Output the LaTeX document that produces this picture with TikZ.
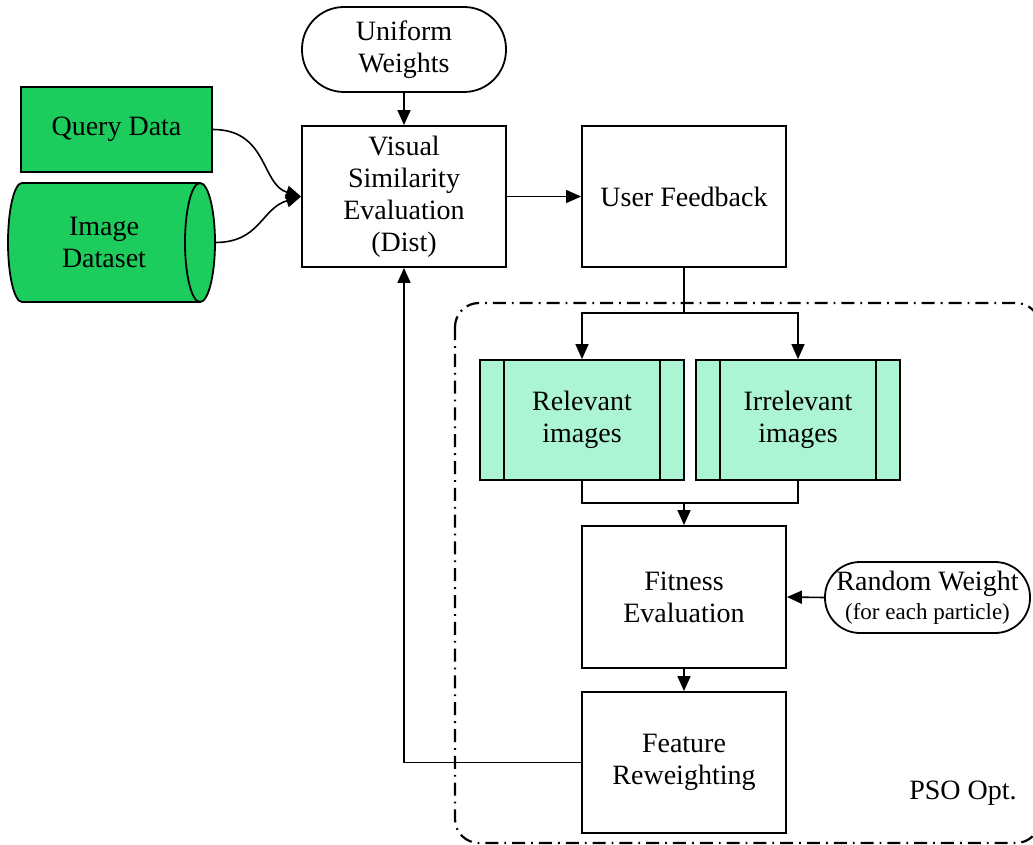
\documentclass[tikz,border=0pt]{standalone}
\usepackage{fontspec}
\setmainfont{Liberation Serif}
\usetikzlibrary{arrows.meta}
\definecolor{qgreen}{RGB}{28,204,92}
\definecolor{mint}{RGB}{172,245,212}
\begin{document}
\begin{tikzpicture}[x=1pt,y=-1pt,
  every node/.style={font=\fontsize{28}{32}\selectfont, align=center, inner sep=0pt},
  box/.style={draw, line width=1.8pt, minimum width=204pt, minimum height=141pt},
  setbox/.style={draw, line width=1.8pt, fill=mint, minimum width=204pt, minimum height=120pt},
  conn/.style={line width=1.6pt},
  arr/.style={conn, -{Triangle[length=15pt,width=13pt]}},
  pso/.style={line width=2.2pt, rounded corners=24pt, dash pattern=on 13pt off 6pt on 1.8pt off 6pt},
]
\useasboundingbox (0,0) rectangle (1033,845);

% PSO region (clipped by the page edge)
\begin{scope}
  \clip (0,0) rectangle (1033,845);
  \draw[pso] (455,303) rectangle (1040,843);
\end{scope}

% image dataset cylinder
\draw[line width=1.8pt, fill=qgreen] (22,183) arc[start angle=90,end angle=270,x radius=14pt,y radius=59.5pt]
  -- (200,302) arc[start angle=-90,end angle=90,x radius=15pt,y radius=59.5pt] -- cycle;
\draw[line width=1.8pt] (200,183) arc[start angle=90,end angle=270,x radius=15pt,y radius=59.5pt];
\node[minimum width=222pt, minimum height=119pt] (ids) at (104,242.5) {Image\\Dataset};

\node[draw, line width=1.8pt, fill=qgreen, minimum width=191pt, minimum height=85pt] (qd) at (116.5,129.5) {Query Data};

\node[draw, line width=1.8pt, rounded corners=42pt, minimum width=204pt, minimum height=85pt] (uw) at (404,49.5) {Uniform\\Weights};
\node[box] (vis) at (404,196.5) {Visual\\Similarity\\Evaluation\\(Dist)};
\node[box] (uf) at (684,196.5) {User Feedback};

\node[setbox] (rel) at (582,420) {Relevant\\images};
\node[setbox] (irr) at (798,420) {Irrelevant\\images};
\foreach \n in {rel,irr}{
  \draw[line width=1.8pt] ([xshift=25pt]\n.north west) -- ([xshift=25pt]\n.south west);
  \draw[line width=1.8pt] ([xshift=-25pt]\n.north east) -- ([xshift=-25pt]\n.south east);
}

\node[box, minimum height=142pt] (fit) at (684,597) {Fitness\\Evaluation};
\node[box] (feat) at (684,762.5) {Feature\\Reweighting};

\node[draw, line width=1.8pt, rounded corners=35pt, minimum width=205pt, minimum height=71pt] (rw) at (927.5,597.5)
  {Random Weight\\[-3pt]{\fontsize{23}{26}\selectfont (for each particle)}};

\node (pso) at (963,793) {PSO Opt.};

% connectors
\draw[arr] (qd.east) .. controls +(55,0) and +(-40,-12) .. (vis.west);
\draw[arr] (ids.east) .. controls +(45,0) and +(-40,12) .. (vis.west);
\draw[arr] (uw.south) -- (vis.north);
\draw[arr] (vis.east) -- (uf.west);

\coordinate (sp) at (684,313);
\draw[conn] (uf.south) -- (sp);
\draw[arr] (sp) -| (rel.north);
\draw[arr] (sp) -| (irr.north);

\coordinate (jn) at (684,503);
\draw[conn] (rel.south) |- (jn);
\draw[conn] (irr.south) |- (jn);
\draw[arr] (jn) -- (fit.north);

\draw[arr] (rw.west) -- (fit.east);
\draw[arr] (fit.south) -- (feat.north);
\draw[arr] (feat.west) -| (vis.south);
\end{tikzpicture}
\end{document}
